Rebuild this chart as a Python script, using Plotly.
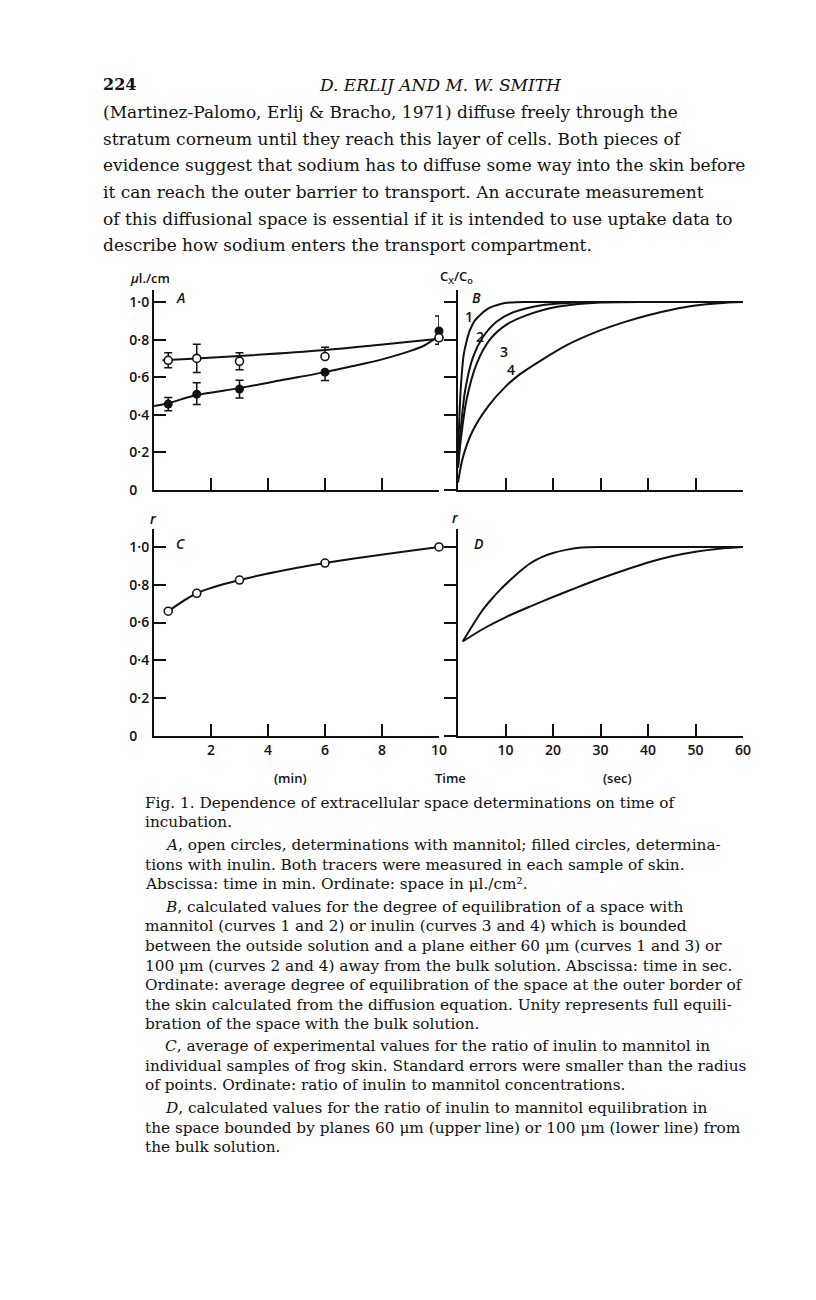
import plotly.graph_objects as go

# the page body keeps its default 8px margin, so the figure is 16px smaller
PAGE_W, PAGE_H = 816, 1300
OFF = 8
W, H = PAGE_W - 2 * OFF, PAGE_H - 2 * OFF

# ---- Panel A: extracellular space (ul/cm2) vs time (min)
a_time = [0.5, 1.5, 3, 6, 10]
a_mannitol = [0.69, 0.70, 0.685, 0.71, 0.81]
a_mannitol_up = [0.04, 0.075, 0.045, 0.05, 0.0]
a_mannitol_dn = [0.04, 0.075, 0.045, 0.0, 0.0]
a_inulin = [0.457, 0.51, 0.537, 0.627, 0.846]
a_inulin_up = [0.035, 0.06, 0.047, 0.0, 0.08]
a_inulin_dn = [0.035, 0.055, 0.047, 0.045, 0.07]

# fitted lines drawn through the points
a_fit_m_t = [0.3, 1.5, 3, 6, 10]
a_fit_m = [0.69, 0.70, 0.713, 0.745, 0.805]
a_fit_i_t = [0, 0.5, 1.5, 3, 4.5, 6, 7, 8, 9, 9.5, 10]
a_fit_i = [0.447, 0.462, 0.505, 0.542, 0.585, 0.627, 0.66, 0.695, 0.74, 0.77, 0.82]

# ---- Panel B: calculated Cx/Co vs time (sec)
b1_t = [0, 0.2, 0.45, 0.8, 1.2, 1.8, 2.5, 3.5, 4.6, 6, 7.5, 9, 11, 14, 20, 30, 40, 50, 60]
b1 = [0.12, 0.33, 0.48, 0.62, 0.72, 0.79, 0.85, 0.9, 0.93, 0.96, 0.978, 0.99, 0.997, 1.0, 1.0, 1.0, 1.0, 1.0, 1.0]
b2_t = [0, 0.5, 1.5, 3.2, 5.3, 8.1, 11.6, 17.3, 23, 30, 40, 50, 60]
b2 = [0.12, 0.3, 0.53, 0.71, 0.815, 0.895, 0.945, 0.982, 0.995, 1.0, 1.0, 1.0, 1.0]
b3_t = [0, 0.6, 1.8, 3.9, 6.7, 10.2, 14.5, 18.5, 24, 30, 40, 50, 60]
b3 = [0.12, 0.27, 0.48, 0.67, 0.8, 0.88, 0.93, 0.962, 0.985, 0.997, 1.0, 1.0, 1.0]
b4_t = [0, 1, 3, 6.5, 10, 13, 17.5, 23, 29, 35, 40, 45, 50, 55, 60]
b4 = [0.04, 0.17, 0.31, 0.45, 0.55, 0.615, 0.69, 0.772, 0.84, 0.893, 0.93, 0.959, 0.981, 0.994, 1.0]

# ---- Panel C: ratio inulin / mannitol vs time (min)
c_time = [0.5, 1.5, 3, 6, 10]
c_ratio = [0.66, 0.755, 0.825, 0.915, 1.0]

# ---- Panel D: calculated ratio vs time (sec)
d_up_t = [1, 3, 5, 7, 9, 11, 13, 15, 17.5, 20, 23, 26, 30, 40, 50, 60]
d_up = [0.5, 0.582, 0.66, 0.722, 0.777, 0.825, 0.87, 0.91, 0.945, 0.968, 0.986, 0.997, 1.0, 1.0, 1.0, 1.0]
d_lo_t = [1, 5.5, 10, 15, 20, 25, 30, 35, 40, 45, 50, 55, 60]
d_lo = [0.5, 0.57, 0.628, 0.683, 0.735, 0.785, 0.833, 0.877, 0.918, 0.951, 0.975, 0.991, 1.0]

y_ticks = [0, 0.2, 0.4, 0.6, 0.8, 1.0]
y_ticktext = ["0\u2007\u2008", "0\u00b72", "0\u00b74", "0\u00b76", "0\u00b78", "1\u00b70"]
min_ticks = [2, 4, 6, 8, 10]
sec_ticks = [10, 20, 30, 40, 50, 60]

header = ["224", "D. ERLIJ AND M. W. SMITH"]
body = [
    "(Martinez-Palomo, Erlij & Bracho, 1971) diffuse freely through the",
    "stratum corneum until they reach this layer of cells. Both pieces of",
    "evidence suggest that sodium has to diffuse some way into the skin before",
    "it can reach the outer barrier to transport. An accurate measurement",
    "of this diffusional space is essential if it is intended to use uptake data to",
    "describe how sodium enters the transport compartment.",
]
caption = [
    ("Fig. 1. Dependence of extracellular space determinations on time of", 0),
    ("incubation.", 0),
    ("<i>A</i>, open circles, determinations with mannitol; filled circles, determina-", 1),
    ("tions with inulin. Both tracers were measured in each sample of skin.", 0),
    ("Abscissa: time in min. Ordinate: space in \u03bcl./cm\u00b2.", 0),
    ("<i>B</i>, calculated values for the degree of equilibration of a space with", 1),
    ("mannitol (curves 1 and 2) or inulin (curves 3 and 4) which is bounded", 0),
    ("between the outside solution and a plane either 60 \u03bcm (curves 1 and 3) or", 0),
    ("100 \u03bcm (curves 2 and 4) away from the bulk solution. Abscissa: time in sec.", 0),
    ("Ordinate: average degree of equilibration of the space at the outer border of", 0),
    ("the skin calculated from the diffusion equation. Unity represents full equili-", 0),
    ("bration of the space with the bulk solution.", 0),
    ("<i>C</i>, average of experimental values for the ratio of inulin to mannitol in", 1),
    ("individual samples of frog skin. Standard errors were smaller than the radius", 0),
    ("of points. Ordinate: ratio of inulin to mannitol concentrations.", 0),
    ("<i>D</i>, calculated values for the ratio of inulin to mannitol equilibration in", 1),
    ("the space bounded by planes 60 \u03bcm (upper line) or 100 \u03bcm (lower line) from", 0),
    ("the bulk solution.", 0),
]
caption_y = [803, 822, 845, 865, 884, 907, 926, 946, 966, 985, 1005, 1024,
             1046, 1066, 1085, 1108, 1128, 1147]


# page pixel -> paper fraction
def px(x):
    return (x - OFF) / W


def py(y):
    return 1 - (y - OFF) / H


INK = "#111111"
LW = 2
SANS = "Open Sans"
SERIF = "DejaVu Serif"

fig = go.Figure()


def curve(x, y, xa, ya):
    fig.add_trace(go.Scatter(x=x, y=y, mode="lines", xaxis=xa, yaxis=ya,
                             line=dict(color=INK, width=LW, shape="spline", smoothing=0.8),
                             hoverinfo="skip", cliponaxis=False))


# A
curve(a_fit_m_t, a_fit_m, "x", "y")
curve(a_fit_i_t, a_fit_i, "x", "y")
fig.add_trace(go.Scatter(
    x=a_time, y=a_inulin, mode="markers", xaxis="x", yaxis="y", cliponaxis=False,
    marker=dict(symbol="circle", size=9, color=INK),
    error_y=dict(type="data", array=a_inulin_up, arrayminus=a_inulin_dn,
                 color=INK, thickness=1.5, width=4)))
fig.add_trace(go.Scatter(
    x=a_time, y=a_mannitol, mode="markers", xaxis="x", yaxis="y", cliponaxis=False,
    marker=dict(symbol="circle", size=8, color="white", line=dict(color=INK, width=1.6)),
    error_y=dict(type="data", array=a_mannitol_up, arrayminus=a_mannitol_dn,
                 color=INK, thickness=1.5, width=4)))

# B
for t, v in [(b1_t, b1), (b2_t, b2), (b3_t, b3), (b4_t, b4)]:
    curve(t, v, "x2", "y2")

# C
fig.add_trace(go.Scatter(
    x=c_time, y=c_ratio, mode="lines+markers", xaxis="x3", yaxis="y3", cliponaxis=False,
    line=dict(color=INK, width=LW, shape="spline", smoothing=0.8),
    marker=dict(symbol="circle", size=8, color="white", line=dict(color=INK, width=1.6))))

# D
curve(d_up_t, d_up, "x4", "y4")
curve(d_lo_t, d_lo, "x4", "y4")

top_dom = [py(490), py(290)]
bot_dom = [py(736), py(529)]
left_dom = [px(154), px(439)]
right_dom = [px(458), px(743)]

tickfont = dict(family=SANS, size=14, color=INK, weight=600)


def xax(dom, rng, vals, labels, anchor):
    return dict(domain=dom, range=rng, anchor=anchor, showgrid=False, zeroline=False,
                showline=True, linecolor=INK, linewidth=LW, ticks="inside", ticklen=12,
                tickwidth=LW, tickcolor=INK, tickvals=vals, showticklabels=labels,
                tickfont=tickfont, fixedrange=True, automargin=False)


def yax(dom, rng, side_ticks, labels, anchor):
    return dict(domain=dom, range=rng, anchor=anchor, showgrid=False, zeroline=False,
                showline=True, linecolor=INK, linewidth=LW, ticks=side_ticks, ticklen=12,
                tickwidth=LW, tickcolor=INK, tickvals=y_ticks, ticktext=y_ticktext,
                showticklabels=labels, tickfont=tickfont, fixedrange=True,
                automargin=False)


fig.update_layout(
    width=W, height=H, margin=dict(l=0, r=0, t=0, b=0, pad=0, autoexpand=False),
    paper_bgcolor="white", plot_bgcolor="white", showlegend=False,
    xaxis=xax(left_dom, [0, 10], min_ticks, False, "y"),
    yaxis=yax(top_dom, [0, 1.064], "inside", True, "x"),
    xaxis2=xax(right_dom, [0, 60], sec_ticks, False, "y2"),
    yaxis2=yax(top_dom, [0, 1.064], "outside", False, "x2"),
    xaxis3=xax(left_dom, [0, 10], min_ticks, True, "y3"),
    yaxis3=yax(bot_dom, [0, 1.095], "inside", True, "x3"),
    xaxis4=xax(right_dom, [0, 60], sec_ticks, True, "y4"),
    yaxis4=yax(bot_dom, [0, 1.095], "outside", False, "x4"),
)

ann = []


def label(text, x, y, size=14, family=SANS, anchor="center", italic=False, weight=600):
    ann.append(dict(text=("<i>%s</i>" % text) if italic else text, x=px(x), y=py(y),
                    xref="paper", yref="paper", showarrow=False, xanchor=anchor,
                    yanchor="middle", borderpad=0,
                    font=dict(family=family, size=size, color=INK, weight=weight)))


# panel labels and axis names
label("A", 180, 298, italic=True)
label("B", 476, 297, italic=True)
label("C", 180, 543, italic=True)
label("D", 478, 543, italic=True)
label("<i>\u03bc</i>l./cm", 150, 278, size=13)
label("C<sub>X</sub>/C<sub>o</sub>", 456, 277, size=13)
label("r", 153, 518, italic=True)
label("r", 455, 517, italic=True)
for txt, x, y in [("1", 469, 316), ("2", 480, 336), ("3", 504, 351), ("4", 511, 369)]:
    label(txt, x, y, size=14)
label("(min)", 290, 778, size=13)
label("Time", 450, 778, size=13)
label("(sec)", 617, 778, size=13)

# page text
label("<b>224</b>", 102, 85, size=16, family=SERIF, anchor="left", weight=400)
label(header[1], 440, 85, size=17, family=SERIF, italic=True, weight=400)
for i, line in enumerate(body):
    label(line, 102, 112 + i * 26.7, size=17, family=SERIF, anchor="left", weight=400)
for (line, indent), y in zip(caption, caption_y):
    label(line, 164 if indent else 144, y, size=15.3, family=SERIF, anchor="left", weight=400)

fig.update_layout(annotations=ann)
fig.write_html("out.html")
